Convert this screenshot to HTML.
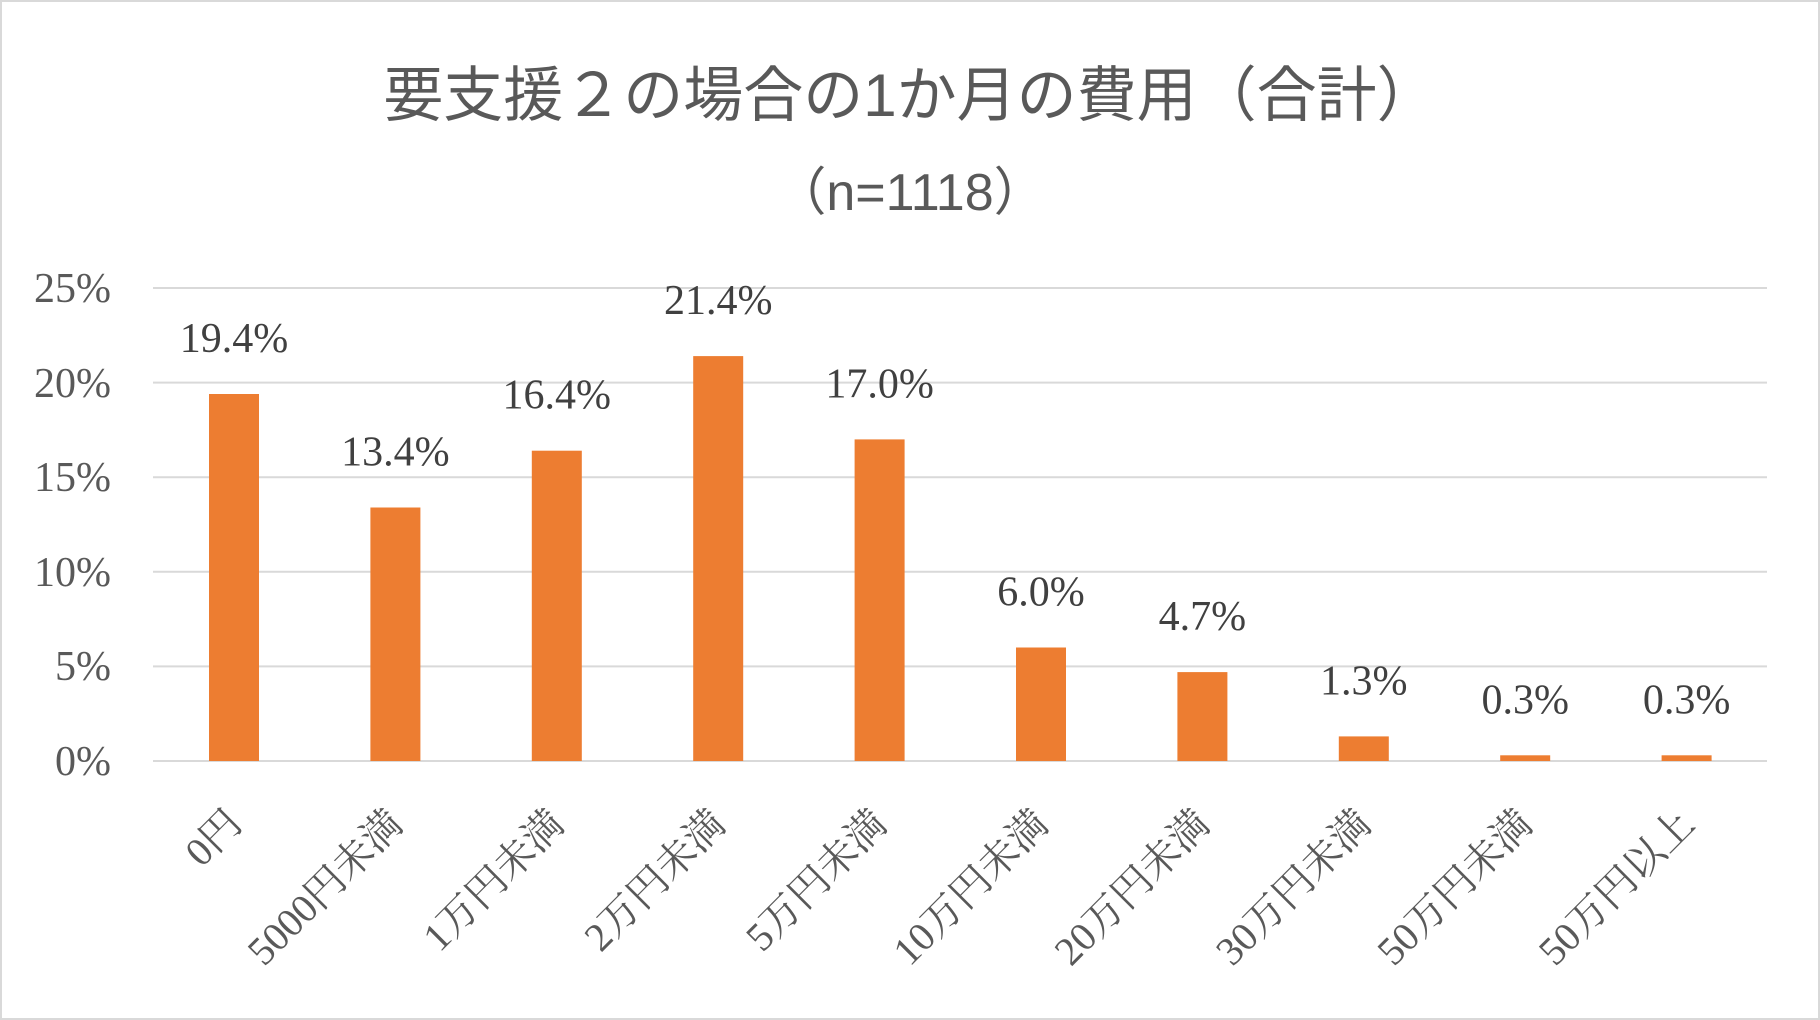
<!DOCTYPE html>
<html><head><meta charset="utf-8"><style>
html,body{margin:0;padding:0;background:#fff;}
svg{display:block;}
</style></head><body>
<svg width="1820" height="1020" xmlns="http://www.w3.org/2000/svg">
<rect x="1" y="1" width="1818" height="1018" fill="#fff" stroke="#d9d9d9" stroke-width="2"/>
<text x="910" y="116" text-anchor="middle" font-family="'Liberation Sans','Noto Sans CJK JP',sans-serif" font-size="60" fill="#595959">要支援２の場合の1か月の費用（合計）</text>
<text x="910" y="210" text-anchor="middle" font-family="'Liberation Sans','Noto Sans CJK JP',sans-serif" font-size="52" fill="#595959">（n=1118）</text>
<g stroke="#d9d9d9" stroke-width="2">
<line x1="153" x2="1767" y1="288" y2="288"/>
<line x1="153" x2="1767" y1="382.6" y2="382.6"/>
<line x1="153" x2="1767" y1="477.2" y2="477.2"/>
<line x1="153" x2="1767" y1="571.8" y2="571.8"/>
<line x1="153" x2="1767" y1="666.4" y2="666.4"/>
<line x1="153" x2="1767" y1="761" y2="761"/>
</g>
<g font-family="'Liberation Serif','Noto Serif CJK SC',serif" font-size="42" fill="#595959" text-anchor="end">
<text x="111" y="302">25%</text>
<text x="111" y="397">20%</text>
<text x="111" y="491">15%</text>
<text x="111" y="586">10%</text>
<text x="111" y="680">5%</text>
<text x="111" y="775">0%</text>
</g>
<g fill="#ed7d31">
<rect x="209" y="394" width="50" height="367"/>
<rect x="370.4" y="507.5" width="50" height="253.5"/>
<rect x="531.8" y="450.7" width="50" height="310.3"/>
<rect x="693.2" y="356.1" width="50" height="404.9"/>
<rect x="854.6" y="439.4" width="50" height="321.6"/>
<rect x="1016" y="647.5" width="50" height="113.5"/>
<rect x="1177.4" y="672.1" width="50" height="88.9"/>
<rect x="1338.8" y="736.4" width="50" height="24.6"/>
<rect x="1500.2" y="755.3" width="50" height="5.7"/>
<rect x="1661.6" y="755.3" width="50" height="5.7"/>
</g>
<g font-family="'Liberation Serif','Noto Serif CJK SC',serif" font-size="42" fill="#404040" text-anchor="middle">
<text x="234" y="352">19.4%</text>
<text x="395.4" y="465.5">13.4%</text>
<text x="556.8" y="408.7">16.4%</text>
<text x="718.2" y="314.1">21.4%</text>
<text x="879.6" y="397.4">17.0%</text>
<text x="1041" y="605.5">6.0%</text>
<text x="1202.4" y="630.1">4.7%</text>
<text x="1363.8" y="694.4">1.3%</text>
<text x="1525.2" y="713.3">0.3%</text>
<text x="1686.6" y="713.3">0.3%</text>
</g>
<g font-family="'Liberation Serif','Noto Serif CJK SC',serif" font-size="40" fill="#595959" text-anchor="end">
<text x="244" y="826" transform="rotate(-45 244 826)">0円</text>
<text x="405.4" y="826" transform="rotate(-45 405.4 826)">5000円未満</text>
<text x="566.8" y="826" transform="rotate(-45 566.8 826)">1万円未満</text>
<text x="728.2" y="826" transform="rotate(-45 728.2 826)">2万円未満</text>
<text x="889.6" y="826" transform="rotate(-45 889.6 826)">5万円未満</text>
<text x="1051" y="826" transform="rotate(-45 1051 826)">10万円未満</text>
<text x="1212.4" y="826" transform="rotate(-45 1212.4 826)">20万円未満</text>
<text x="1373.8" y="826" transform="rotate(-45 1373.8 826)">30万円未満</text>
<text x="1535.2" y="826" transform="rotate(-45 1535.2 826)">50万円未満</text>
<text x="1696.6" y="826" transform="rotate(-45 1696.6 826)">50万円以上</text>
</g>
</svg>
</body></html>
